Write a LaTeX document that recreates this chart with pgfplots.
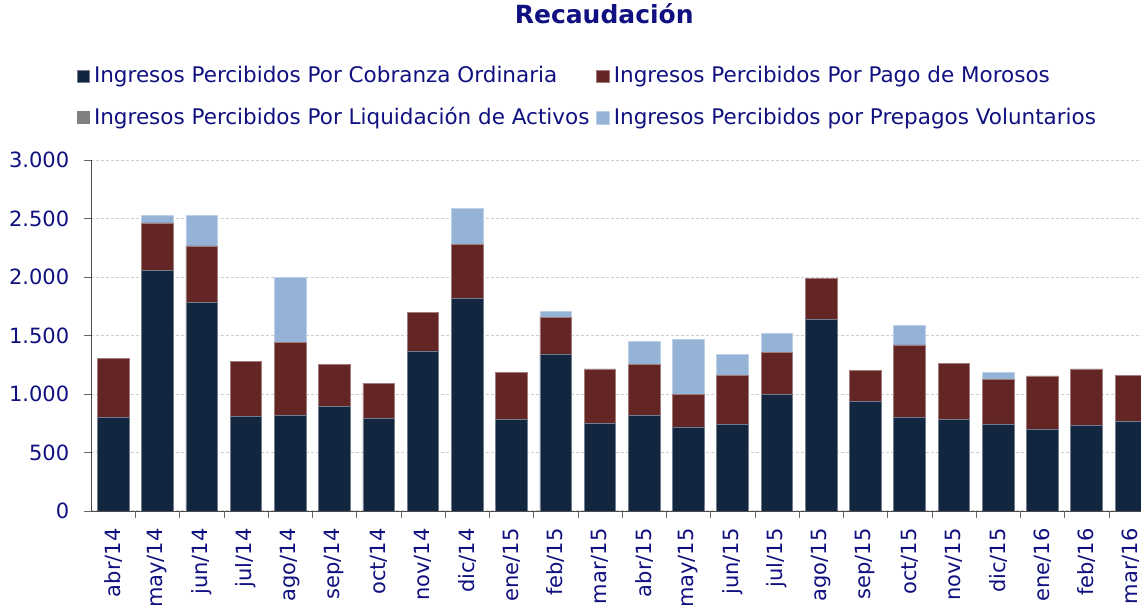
\documentclass[border=0pt]{standalone}
\usepackage{fontspec}
\setmainfont{DejaVu Sans}
\usepackage{pgfplots}
\usepackage{pgfplotstable}
\pgfplotsset{compat=1.18}

\definecolor{navytext}{RGB}{16,16,128}
\definecolor{cobranza}{RGB}{18,38,64}
\definecolor{morosos}{RGB}{100,37,37}
\definecolor{activos}{RGB}{128,128,128}
\definecolor{prepagos}{RGB}{149,179,215}
\definecolor{gridgray}{RGB}{205,205,205}

% idx: abr/14 ... mar/16
\pgfplotstableread{
idx cob  mor liq pre
0   803  499 0   0
1   2054 408 0   65
2   1786 479 0   262
3   809  467 0   0
4   820  622 0   558
5   897  354 0   0
6   789  305 0   0
7   1368 327 0   0
8   1820 462 0   305
9   781  407 0   0
10  1342 316 0   49
11  746  468 0   0
12  815  436 0   199
13  718  282 0   470
14  738  419 0   182
15  994  362 0   163
16  1641 345 0   0
17  934  268 0   0
18  798  621 0   168
19  781  481 0   0
20  744  384 0   54
21  701  453 0   0
22  735  479 0   0
23  769  388 0   0
}\recaudacion

\begin{document}
\begin{tikzpicture}
\useasboundingbox (-45.5pt,-47pt) rectangle (525pt,255.5pt);
\begin{axis}[
    scale only axis,
    width=525pt, height=175.5pt,
    ybar stacked, bar width=15.8pt,
    xmin=-0.5, xmax=23.23,
    ymin=0, ymax=3000,
    axis lines*=left,
    axis line style={-, draw=black!70},
    tick align=outside,
    tick pos=left,
    major tick length=3.5pt,
    tick style={black!60},
    xtick={0.5,1.5,...,22.5},
    xticklabels={},
    extra x ticks={0,...,23},
    extra x tick labels={abr/14,may/14,jun/14,jul/14,ago/14,sep/14,oct/14,nov/14,dic/14,ene/15,feb/15,mar/15,abr/15,may/15,jun/15,jul/15,ago/15,sep/15,oct/15,nov/15,dic/15,ene/16,feb/16,mar/16},
    extra x tick style={major tick length=0pt},
    xticklabel style={rotate=90, anchor=east, inner xsep=8.5pt},
    yticklabel style={inner xsep=7.2pt},
    ytick={0,500,...,3000},
    /pgf/number format/assume math mode=true,
    /pgf/number format/1000 sep={.},
    tick label style={font=\fontsize{10.5}{12.6}\selectfont, text=navytext},
    ymajorgrids,
    major grid style={gridgray, dash pattern=on 1.5pt off 1pt, line width=0.5pt},
    title={Recaudación},
    title style={at={(0.4888,1.355)}, anchor=base, font=\bfseries\fontsize{12.5}{15}\selectfont, text=navytext},
    legend columns=2,
    legend cell align=left,
    legend style={at={(-0.0198,1.29)}, anchor=north west, draw=none, fill=none,
        font=\fontsize{10.75}{12.9}\selectfont, text=navytext,
        row sep=6.8pt,
        /tikz/every even column/.append style={column sep=1.5pt}},
    legend image code/.code={\fill[#1] (0pt,-3.2pt) rectangle (6.4pt,3.2pt);},
]
\addplot[fill=cobranza, draw=cobranza!60!white, line width=0.3pt] table[x=idx, y=cob] {\recaudacion};
\addlegendentry{Ingresos Percibidos Por Cobranza Ordinaria}
\addplot[fill=morosos, draw=morosos!60!white, line width=0.3pt] table[x=idx, y=mor] {\recaudacion};
\addlegendentry{Ingresos Percibidos Por Pago de Morosos}
\addplot[fill=activos, draw=none] table[x=idx, y=liq] {\recaudacion};
\addlegendentry{Ingresos Percibidos Por Liquidación de Activos}
\addplot[fill=prepagos, draw=prepagos!60!white, line width=0.3pt] table[x=idx, y=pre] {\recaudacion};
\addlegendentry{Ingresos Percibidos por Prepagos Voluntarios}
\end{axis}
\end{tikzpicture}
\end{document}
